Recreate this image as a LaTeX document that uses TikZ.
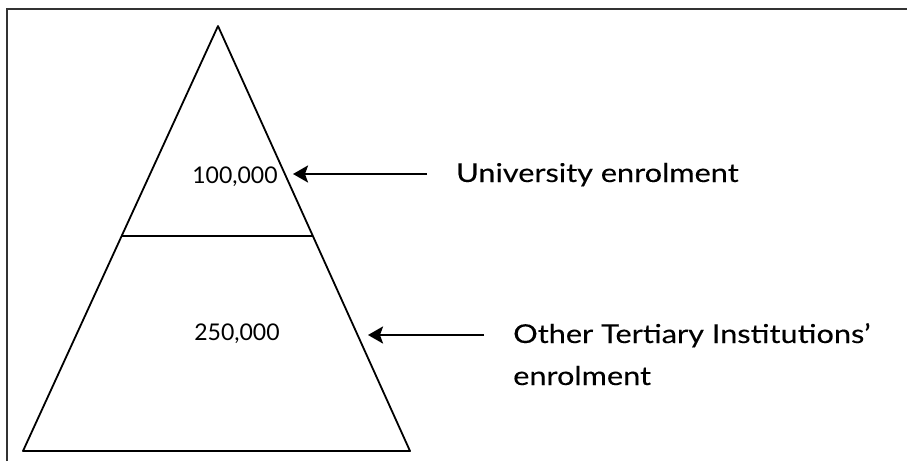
\documentclass[tikz,border=0pt]{standalone}
\usepackage{fontspec}
\setmainfont{Lato}
\newfontfamily\lblfont[FakeStretch=1.18,FakeBold=0.15]{Lato}
\usetikzlibrary{arrows.meta}
\begin{document}
\begin{tikzpicture}[x=1pt, y=-1pt, >={Stealth[length=15pt,width=17pt,inset=3pt]}]
  \useasboundingbox (0,0) rectangle (907,461);
  \tikzset{num/.style={anchor=base, inner sep=0pt, font=\fontsize{23}{28}\selectfont},
    lbl/.style={anchor=base west, inner sep=0pt, font=\lblfont\fontsize{26}{32}\selectfont},
    arr/.style={->, line width=2.4pt, shorten <=29pt}}
  % frame
  \draw[line width=2pt, black!80] (7,461) -- (7,9) -- (907,9);
  % pyramid
  \coordinate (A) at (218,26);
  \coordinate (BL) at (23,451);
  \coordinate (BR) at (410,451);
  \coordinate (ML) at (121.6,236);
  \coordinate (MR) at (312.9,236);
  \draw[line width=1.8pt, line join=round] (A) -- (BR) -- (BL) -- cycle;
  \draw[line width=1.8pt] (ML) -- (MR);
  \node[num] (uninum) at (235,183) {100,000};
  \node[num] (othnum) at (237,340) {250,000};
  % labels and arrows
  \node[lbl] (uni) at (456,182) {University enrolment};
  \node[lbl] (oth) at (513,343) {Other Tertiary Institutions’};
  \node[lbl] (oth2) at (513,385) {enrolment};
  \coordinate (unitip) at (293,174);
  \coordinate (othtip) at (368,335);
  \draw[arr] (uni.west |- unitip) -- (unitip);
  \draw[arr] (oth.west |- othtip) -- (othtip);
\end{tikzpicture}
\end{document}
